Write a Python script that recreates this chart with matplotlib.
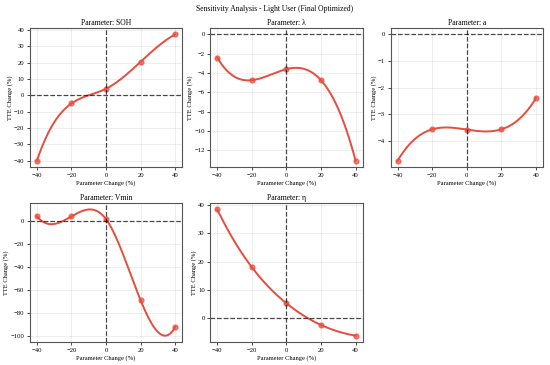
import numpy as np
import matplotlib.pyplot as plt

plt.rcParams['font.family'] = ['Liberation Serif', 'DejaVu Serif']

param_changes = [-40, -20, 0, 20, 40]
param_names = ['SOH', 'λ', 'a', 'Vmin', 'η']
soh_vals = [-40.0, -5.0, 4.0, 20.5, 37.2]
lam_vals = [-2.4, -4.75, -3.6, -4.75, -13.1]
a_vals = [-4.75, -3.57, -3.58, -3.57, -2.4]
vmin_vals = [4.0, 4.0, 1.5, -69.0, -92.0]
eta_vals = [38.5, 18.0, 5.2, -2.5, -6.3]
all_vals = [soh_vals, lam_vals, a_vals, vmin_vals, eta_vals]


def smooth(x, y, n=300):
    # not-a-knot cubic spline: one interior knot at the middle point
    x = np.asarray(x, float)
    y = np.asarray(y, float)
    k = x[len(x) // 2]
    def basis(t):
        t = np.asarray(t, float)
        return np.column_stack([np.ones_like(t), t, t**2, t**3,
                                np.clip(t - k, 0, None)**3])
    coef = np.linalg.solve(basis(x), y)
    xs = np.linspace(x.min(), x.max(), n)
    return xs, basis(xs) @ coef


color = '#e74c3c'
fig, axes = plt.subplots(2, 3, figsize=(5.5, 3.65), dpi=100)
fig.subplots_adjust(left=0.0545, right=0.987, top=0.923, bottom=0.063,
                    wspace=0.185, hspace=0.26)
fig.suptitle('Sensitivity Analysis - Light User (Final Optimized)',
             fontsize=5.5, y=0.985)

for i, (name, vals) in enumerate(zip(param_names, all_vals)):
    ax = axes.flat[i]
    xs, ys = smooth(param_changes, vals)
    ax.plot(xs, ys, color=color, linewidth=1.4)
    ax.plot(param_changes, vals, 'o', color=color, markersize=3.5, alpha=0.7)
    ax.axhline(0, color='black', linestyle='--', linewidth=0.9, alpha=0.7)
    ax.axvline(0, color='black', linestyle='--', linewidth=0.9, alpha=0.7)
    ax.set_title(f'Parameter: {name}', fontsize=5.5, pad=2.5)
    ax.set_xlabel('Parameter Change (%)', fontsize=4.7, labelpad=2)
    ax.set_ylabel('TTE Change (%)', fontsize=4.7, labelpad=1)
    ax.set_xticks([-40, -20, 0, 20, 40])
    ax.tick_params(labelsize=4.8, length=2, width=0.5, pad=2)
    ax.grid(True, alpha=0.3, linewidth=0.5)
    for s in ax.spines.values():
        s.set_color('#555555')
        s.set_linewidth(0.8)

axes.flat[5].set_visible(False)

plt.savefig('out.png', dpi=100)
